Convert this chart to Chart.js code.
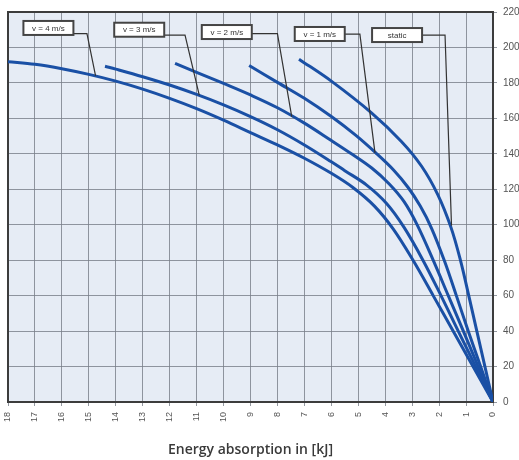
<!DOCTYPE html>
<html>
<head>
<meta charset="utf-8">
<script src="https://cdn.jsdelivr.net/npm/chart.js@4.4.1/dist/chart.umd.min.js"></script>
<style>
  html, body { margin: 0; padding: 0; background: #fff; }
  #wrap { width: 519px; height: 460px; }
</style>
</head>
<body>
<div id="wrap"><canvas id="chart" width="519" height="460"></canvas></div>
<script>
// Energy absorption curves
const seriesLabels = ['v = 4 m/s', 'v = 3 m/s', 'v = 2 m/s', 'v = 1 m/s', 'static'];

const v4Energy = [0, 0.74, 1.48, 2.22, 2.95, 3.7, 4.4, 5.2, 6, 7, 8, 9, 10, 11, 12, 13, 14, 15, 16, 17, 18];
const v4Force  = [0, 20, 40, 60, 79.5, 97.5, 110.5, 121, 129, 137.5, 145, 152, 159, 165.5, 171.3, 176.5, 181, 184.8, 188, 190.5, 192];

const v3Energy = [0, 0.64, 1.29, 1.93, 2.6, 3.3, 3.95, 4.7, 5.5, 6, 7, 8, 9, 10, 11, 12, 13, 14, 14.4];
const v3Force  = [0, 20, 40, 60, 80, 98.5, 112, 122.5, 130.5, 135.5, 145, 153.6, 161, 167.6, 173.5, 178.8, 183.5, 187.8, 189.4];

const v2Energy = [0, 0.55, 1.1, 1.66, 2.22, 2.8, 3.3, 3.85, 4.5, 5.3, 6, 7, 8, 9, 10, 11, 11.8];
const v2Force  = [0, 20, 40, 60, 80, 99.5, 113, 123, 132, 140.5, 147.5, 157.3, 166, 173.2, 179.7, 186, 191];

const v1Energy = [0, 0.46, 0.92, 1.36, 1.8, 2.28, 2.7, 3.15, 3.7, 4.35, 5.1, 6, 7, 8, 9.05];
const v1Force  = [0, 20, 40, 60, 79.5, 98, 110.5, 121, 131, 140.5, 150.5, 161, 171.3, 180.3, 189.8];

const staticEnergy = [0, 0.3, 0.6, 0.9, 1.2, 1.56, 2.05, 2.65, 3.4, 4.5, 6, 7.2];
const staticForce  = [0, 20, 40, 60, 79.5, 98.5, 117, 133, 147, 163, 181, 193.4];

const energyTicks = [0, 1, 2, 3, 4, 5, 6, 7, 8, 9, 10, 11, 12, 13, 14, 15, 16, 17, 18];
const forceTicks = [0, 20, 40, 60, 80, 100, 120, 140, 160, 180, 200, 220];

// callout boxes: box centre, elbow and end of the leader line, in data units
const callouts = [
    { text: 'v = 4 m/s', box: [16.5, 211], elbow: [15.07, 207.8], end: [14.75, 184] },
    { text: 'v = 3 m/s', box: [13.13, 210], elbow: [11.43, 207], end: [10.9, 173] },
    { text: 'v = 2 m/s', box: [9.88, 208.7], elbow: [8.0, 207.8], end: [7.47, 161] },
    { text: 'v = 1 m/s', box: [6.43, 207.6], elbow: [4.94, 207.5], end: [4.38, 140.5] },
    { text: 'static', box: [3.56, 207], elbow: [1.78, 207], end: [1.54, 99.5] }
];

const pairs = (xs, ys) => xs.map((x, i) => ({ x: x, y: ys[i] }));
const seriesData = [
    pairs(v4Energy, v4Force),
    pairs(v3Energy, v3Force),
    pairs(v2Energy, v2Force),
    pairs(v1Energy, v1Force),
    pairs(staticEnergy, staticForce)
];

const curveColor = '#1a50a5';

const plotBackground = {
    id: 'plotBackground',
    beforeDraw(chart) {
        const { ctx, chartArea: a } = chart;
        ctx.save();
        ctx.fillStyle = '#e6ecf5';
        ctx.fillRect(a.left, a.top, a.right - a.left, a.bottom - a.top);
        ctx.restore();
    },
    beforeDatasetsDraw(chart) {
        const { ctx, chartArea: a } = chart;
        ctx.save();
        ctx.strokeStyle = '#3c3c3c';
        ctx.lineWidth = 2;
        ctx.strokeRect(a.left, a.top, a.right - a.left, a.bottom - a.top);
        ctx.restore();
    }
};

const calloutPlugin = {
    id: 'callouts',
    afterDatasetsDraw(chart) {
        const { ctx } = chart;
        const xs = chart.scales.x, ys = chart.scales.y;
        const boxW = 50, boxH = 14;
        ctx.save();
        callouts.forEach(c => {
            const bx = xs.getPixelForValue(c.box[0]);
            const by = ys.getPixelForValue(c.box[1]);
            const ex = xs.getPixelForValue(c.elbow[0]);
            const ey = ys.getPixelForValue(c.elbow[1]);
            const tx = xs.getPixelForValue(c.end[0]);
            const ty = ys.getPixelForValue(c.end[1]);
            ctx.strokeStyle = '#333';
            ctx.lineWidth = 1.2;
            ctx.beginPath();
            ctx.moveTo(bx + boxW / 2, ey);
            ctx.lineTo(ex, ey);
            ctx.lineTo(tx, ty);
            ctx.stroke();

            ctx.fillStyle = '#fff';
            ctx.fillRect(bx - boxW / 2, by - boxH / 2, boxW, boxH);
            ctx.strokeStyle = '#444';
            ctx.lineWidth = 2;
            ctx.strokeRect(bx - boxW / 2, by - boxH / 2, boxW, boxH);

            ctx.fillStyle = '#333';
            ctx.font = '8px "Liberation Sans", Arial, sans-serif';
            ctx.textAlign = 'center';
            ctx.textBaseline = 'middle';
            ctx.fillText(c.text, bx, by + 0.5);
        });
        ctx.restore();
    }
};

new Chart(document.getElementById('chart'), {
    type: 'scatter',
    data: {
        datasets: seriesData.map((d, i) => ({
            label: seriesLabels[i],
            data: d,
            showLine: true,
            borderColor: curveColor,
            backgroundColor: curveColor,
            borderWidth: 3,
            pointRadius: 0,
            tension: 0.35
        }))
    },
    options: {
        responsive: false,
        animation: false,
        layout: { padding: { left: 8, top: 10, right: 0, bottom: 0 } },
        scales: {
            x: {
                type: 'linear',
                reverse: true,
                min: 0,
                max: 18,
                afterBuildTicks: s => { s.ticks = energyTicks.map(v => ({ value: v })); },
                afterFit: s => { s.height = 58; },
                grid: { color: 'rgba(120,126,136,0.8)', lineWidth: 1, tickLength: 4 },
                border: { display: false },
                ticks: {
                    color: '#555',
                    font: { size: 9, family: 'Liberation Sans' },
                    minRotation: 90,
                    maxRotation: 90,
                    padding: 6
                },
                title: {
                    display: true,
                    text: 'Energy absorption in [kJ]',
                    color: '#3a3a3a',
                    font: { size: 14, weight: '600', family: 'Open Sans' },
                    padding: { top: 0, bottom: 2 }
                }
            },
            y: {
                position: 'right',
                min: 0,
                max: 220,
                afterBuildTicks: s => { s.ticks = forceTicks.map(v => ({ value: v })); },
                afterFit: s => { s.width = 26; },
                grid: { color: 'rgba(120,126,136,0.8)', lineWidth: 1, tickLength: 4 },
                border: { display: false },
                ticks: {
                    color: '#555',
                    font: { size: 10, family: 'Liberation Sans' },
                    padding: 6
                }
            }
        },
        plugins: {
            legend: { display: false },
            tooltip: { enabled: false }
        }
    },
    plugins: [plotBackground, calloutPlugin]
});
</script>
</body>
</html>
